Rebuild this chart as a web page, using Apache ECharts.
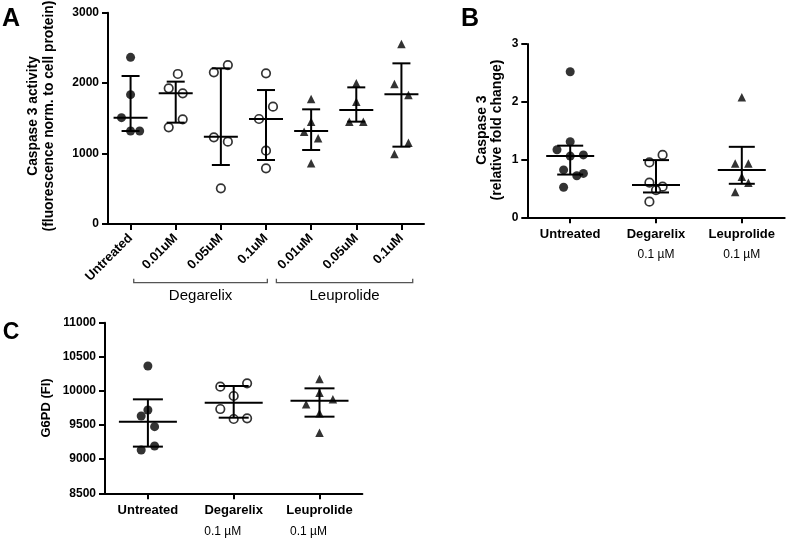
<!DOCTYPE html>
<html>
<head>
<meta charset="utf-8">
<script src="https://cdn.jsdelivr.net/npm/echarts@6/dist/echarts.min.js"></script>
<style>
html,body{margin:0;padding:0;background:#fff;}
#chart{width:787px;height:541px;}
</style>
</head>
<body>
<div id="chart"></div>
<script>
// ---------- Panel A ----------
const catsA = ['Untreated', '0.01uM', '0.05uM', '0.1uM', '0.01uM', '0.05uM', '0.1uM'];
const groupsA = ['Degarelix', 'Leuprolide'];
const ticksA = [0, 1000, 2000, 3000];
const markerA = ['filled', 'open', 'open', 'open', 'tri', 'tri', 'tri'];
const valuesA = [
  [2366, 1836, 1510, 1320, 1320],
  [2130, 1926, 1855, 1486, 1372],
  [2153, 2257, 1230, 1169, 506],
  [2139, 1666, 1491, 1041, 790],
  [1775, 1453, 1311, 1216, 861],
  [1997, 1737, 1453, 1453],
  [2556, 1988, 1832, 1155, 994]
];
const jitterA = [
  [0, 0, -1.3, 0, 1.3],
  [0.3, -1, 1, 1, -1],
  [-1, 1, -1, 1, 0],
  [0, 1, -1, 0, 0],
  [0, 0, -1, 1, 0],
  [0, 0, -1, 1],
  [0, -1, 1, 1, -1]
];
const medianA = [1510, 1855, 1240, 1491, 1320, 1619, 1841];
const lowA = [1320, 1439, 838, 909, 1051, 1453, 1098];
const highA = [2101, 2021, 2210, 1902, 1628, 1940, 2281];

// ---------- Panel B ----------
const catsB = ['Untreated', 'Degarelix', 'Leuprolide'];
const doseB = ['', '0.1 µM', '0.1 µM'];
const ticksB = [0, 1, 2, 3];
const markerB = ['filled', 'open', 'tri'];
const valuesB = [
  [2.52, 1.31, 1.17, 1.06, 1.08, 0.82, 0.72, 0.76, 0.52],
  [1.08, 0.95, 0.60, 0.53, 0.47, 0.27],
  [2.08, 0.93, 0.93, 0.70, 0.60, 0.44]
];
const jitterB = [
  [0, 0, -2, 0, 2, -1, 1, 2, -1],
  [1, -1, -1, 1, 0, -1],
  [0, -1, 1, 0, 1, -1]
];
const medianB = [1.06, 0.56, 0.82];
const lowB = [0.74, 0.43, 0.58];
const highB = [1.24, 0.99, 1.22];

// ---------- Panel C ----------
const catsC = ['Untreated', 'Degarelix', 'Leuprolide'];
const doseC = ['', '0.1 µM', '0.1 µM'];
const ticksC = [8500, 9000, 9500, 10000, 10500, 11000];
const markerC = ['filled', 'open', 'tri'];
const valuesC = [
  [10365, 9721, 9633, 9477, 9193, 9135],
  [10062, 10111, 9926, 9735, 9589, 9599],
  [10175, 9975, 9804, 9877, 9672, 9389]
];
const jitterC = [
  [0, 0, -1, 1, 1, -1],
  [-2, 2, 0, -2, 0, 2],
  [0, 0, -2, 2, 0, 0]
];
const medianC = [9550, 9828, 9857];
const lowC = [9184, 9608, 9623];
const highC = [9877, 10072, 10038];

const FONT = '"Liberation Sans", Arial, Helvetica, sans-serif';

const chart = echarts.init(document.getElementById('chart'), null, {renderer: 'canvas'});

const grids = [
  {left: 108, top: 12.7, width: 316, height: 211.3},
  {left: 527.3, top: 44, width: 257.4, height: 173.3},
  {left: 105, top: 322.7, width: 257.4, height: 170.6}
];

function markerStyle(kind) {
  if (kind === 'filled') return {symbol: 'circle', symbolSize: 9, itemStyle: {color: '#000'}};
  if (kind === 'open') return {symbol: 'circle', symbolSize: 8.5, itemStyle: {color: '#fff', borderColor: '#000', borderWidth: 1.7}};
  return {symbol: 'triangle', symbolSize: 8.5, itemStyle: {color: '#000'}};
}

function pointSeries(gi, values, jitter, markers, step) {
  const out = [];
  values.forEach((vals, ci) => {
    const st = markerStyle(markers[ci]);
    out.push({
      type: 'scatter', xAxisIndex: gi, yAxisIndex: gi,
      symbol: st.symbol, symbolSize: st.symbolSize, itemStyle: st.itemStyle,
      z: 3, silent: true,
      data: vals.map((v, k) => ({value: [ci, v], symbolOffset: [jitter[ci][k] * step, 0]}))
    });
  });
  return out;
}

function barSeries(gi, med, lo, hi, halfMed, halfCap) {
  return {
    type: 'custom', xAxisIndex: gi, yAxisIndex: gi, z: 5, silent: true, clip: false,
    data: med.map((m, i) => [i, m, lo[i], hi[i]]),
    renderItem: function (params, api) {
      const x = api.value(0);
      const pm = api.coord([x, api.value(1)]);
      const pl = api.coord([x, api.value(2)]);
      const ph = api.coord([x, api.value(3)]);
      const style = {stroke: '#000', lineWidth: 2, fill: null};
      return {
        type: 'group',
        children: [
          {type: 'line', shape: {x1: pm[0], y1: pl[1], x2: pm[0], y2: ph[1]}, style: style},
          {type: 'line', shape: {x1: pm[0] - halfMed, y1: pm[1], x2: pm[0] + halfMed, y2: pm[1]}, style: style},
          {type: 'line', shape: {x1: pm[0] - halfCap, y1: pl[1], x2: pm[0] + halfCap, y2: pl[1]}, style: style},
          {type: 'line', shape: {x1: pm[0] - halfCap, y1: ph[1], x2: pm[0] + halfCap, y2: ph[1]}, style: style}
        ]
      };
    }
  };
}

const axisLine = {show: true, lineStyle: {color: '#000', width: 2}};
const axisTick = {show: true, length: 6, lineStyle: {color: '#000', width: 2}};

function yAxis(gi, ticks) {
  return {
    type: 'value', gridIndex: gi,
    min: ticks[0], max: ticks[ticks.length - 1], interval: ticks[1] - ticks[0],
    axisLine: axisLine, axisTick: axisTick, splitLine: {show: false},
    axisLabel: {color: '#000', fontFamily: FONT, fontWeight: 'bold', fontSize: 12, margin: 9,
      formatter: v => String(v)}
  };
}

function xAxis(gi, cats, labelOpt) {
  return {
    type: 'category', gridIndex: gi, data: cats.map((c, i) => String(i)),
    boundaryGap: true,
    axisLine: axisLine,
    axisTick: Object.assign({alignWithLabel: true}, axisTick),
    axisLabel: Object.assign({
      color: '#000', fontFamily: FONT, interval: 0,
      formatter: (v, i) => cats[i]
    }, labelOpt)
  };
}

const graphics = [];
function txt(x, y, text, opt) {
  graphics.push({
    type: 'text', x: x, y: y, rotation: opt.rotation || 0, silent: true,
    style: {text: text, fill: '#000', font: opt.font, align: 'center', verticalAlign: 'middle', lineHeight: opt.lineHeight || 14}
  });
}
// panel letters
txt(11, 19, 'A', {font: 'bold 25px ' + FONT});
txt(470, 19, 'B', {font: 'bold 25px ' + FONT});
txt(11, 333, 'C', {font: 'bold 23px ' + FONT});
// y titles
txt(41, 116, 'Caspase 3 activity\n(fluorescence norm. to cell protein)', {font: 'bold 13.8px ' + FONT, rotation: Math.PI / 2, lineHeight: 16});
txt(489.5, 130, 'Caspase 3\n(relative fold change)', {font: 'bold 14px ' + FONT, rotation: Math.PI / 2, lineHeight: 15});
txt(46.7, 408, 'G6PD (FI)', {font: 'bold 13px ' + FONT, rotation: Math.PI / 2});

// group brackets for panel A (in category units)
const bracketSpans = [[0.07, 3.03], [3.23, 6.25]];
chart.setOption({
  animation: false,
  grid: grids,
  xAxis: [
    xAxis(0, catsA, {fontSize: 13, fontWeight: 'bold', rotate: 45, margin: 12}),
    xAxis(1, catsB, {fontSize: 13, fontWeight: 'bold', margin: 11}),
    xAxis(2, catsC, {fontSize: 13, fontWeight: 'bold', margin: 11})
  ],
  yAxis: [yAxis(0, ticksA), yAxis(1, ticksB), yAxis(2, ticksC)],
  series: [].concat(
    pointSeries(0, valuesA, jitterA, markerA, 7),
    pointSeries(1, valuesB, jitterB, markerB, 6.6),
    pointSeries(2, valuesC, jitterC, markerC, 6.7),
    [barSeries(0, medianA, lowA, highA, 17, 9),
     barSeries(1, medianB, lowB, highB, 24, 13),
     barSeries(2, medianC, lowC, highC, 29, 15)]
  )
});

function catPx(axisIdx, v) {
  const p0 = chart.convertToPixel({xAxisIndex: axisIdx}, 0);
  const p1 = chart.convertToPixel({xAxisIndex: axisIdx}, 1);
  return p0 + (p1 - p0) * v;
}

const yBr = 282.7;
bracketSpans.forEach((sp, k) => {
  const x1 = catPx(0, sp[0]);
  const x2 = catPx(0, sp[1]);
  graphics.push({
    type: 'polyline', silent: true,
    shape: {points: [[x1, yBr - 4], [x1, yBr], [x2, yBr], [x2, yBr - 4]]},
    style: {stroke: '#555', lineWidth: 1.3, fill: null}
  });
  txt((x1 + x2) / 2, 296, groupsA[k], {font: '15px ' + FONT});
});
doseB.forEach((d, i) => {
  if (!d) return;
  txt(catPx(1, i), 255, d, {font: '12px ' + FONT});
});
doseC.forEach((d, i) => {
  if (!d) return;
  txt(catPx(2, i) - 11, 532, d, {font: '12px ' + FONT});
});
chart.setOption({graphic: graphics});
</script>
</body>
</html>
